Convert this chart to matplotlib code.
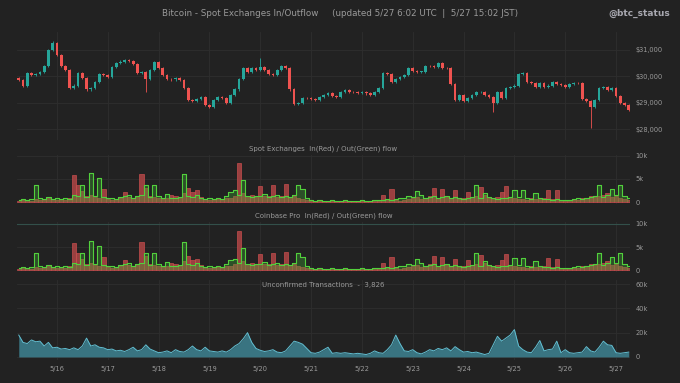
import matplotlib
matplotlib.use("Agg")
import matplotlib.pyplot as plt
import matplotlib.dates as mdates
import numpy as np
import pandas as pd

# 2-hour bins, 5/15 06:00 UTC -> 5/27 06:00 UTC
times = pd.date_range("2021-05-15 06:00", "2021-05-27 06:00", freq="2h")

close = [29870, 29620, 30130, 30050, 30100, 30150, 30400, 31000, 31250, 30800,
         30400, 30230, 29550, 29650, 30130, 29950, 29500, 29550, 29800, 30100,
         30050, 29980, 30360, 30500, 30560, 30620, 30580, 30450, 30130, 30170,
         29900, 30250, 30530, 30300, 30050, 29900, 29880, 29940, 29870, 29550,
         29110, 29050, 29150, 29200, 28920, 28820, 29100, 29200, 29190, 29000,
         29300, 29500, 29900, 30300, 30170, 30300, 30250, 30360, 30250, 30100,
         30050, 30250, 30400, 30320, 29500, 28950, 29000, 29190, 29180, 29150,
         29100, 29230, 29300, 29380, 29250, 29200, 29400, 29480, 29420, 29400,
         29380, 29420, 29350, 29300, 29420, 29550, 30130, 30100, 29800, 29900,
         29980, 30050, 30300, 30200, 30170, 30170, 30400, 30380, 30360, 30500,
         30330, 30300, 29700, 29100, 29280, 29050, 29190, 29300, 29400, 29420,
         29300, 29230, 29000, 29420, 29190, 29550, 29600, 29650, 30100, 30130,
         29790, 29750, 29600, 29750, 29600, 29650, 29790, 29720, 29680, 29600,
         29700, 29750, 29740, 29150, 29050, 28850, 29100, 29560, 29600, 29490,
         29550, 29250, 29000, 28920, 28740]
first_open = 29950
long_wicks = {8: 31350, 30: 29400, 57: 30700, 112: 28650, 135: 28050}

inflow = [0.3, 0.5, 0.4, 0.3, 0.6, 0.5, 0.4, 0.8, 0.6, 0.5,
          0.7, 0.4, 0.9, 5.8, 3.7, 2.3, 1.2, 1.5, 1.0, 0.8,
          2.9, 0.6, 0.5, 0.7, 0.9, 2.2, 1.0, 0.8, 1.1, 6.1,
          3.0, 1.2, 1.0, 0.9, 0.7, 0.8, 1.5, 1.3, 0.8, 2.0,
          3.1, 2.2, 2.5, 1.0, 0.6, 0.5, 0.4, 0.6, 0.5, 0.8,
          0.9, 1.2, 8.5, 2.0, 1.2, 1.5, 1.0, 3.4, 1.4, 1.2,
          3.6, 1.0, 1.3, 3.9, 1.0, 1.2, 0.8, 0.7, 0.4, 0.2,
          0.2, 0.3, 0.2, 0.2, 0.3, 0.2, 0.2, 0.2, 0.3, 0.2,
          0.2, 0.3, 0.2, 0.2, 0.4, 0.3, 1.6, 0.5, 2.9, 0.4,
          0.3, 0.5, 0.6, 0.8, 1.0, 0.7, 0.9, 1.2, 3.0, 0.8,
          2.9, 1.0, 0.8, 2.5, 0.6, 0.9, 2.2, 1.0, 1.2, 3.3,
          1.5, 0.9, 0.8, 1.0, 2.2, 3.4, 1.0, 0.8, 0.6, 0.7,
          0.5, 0.8, 0.7, 0.9, 0.8, 2.7, 0.6, 2.5, 0.5, 0.3,
          0.3, 0.4, 0.5, 0.8, 0.9, 1.4, 1.0, 1.2, 1.5, 2.0,
          1.0, 1.3, 0.9, 0.6, 0.5]

outflow = [0.5, 0.6, 0.4, 0.7, 3.7, 0.8, 0.6, 1.0, 0.7, 0.9,
           0.6, 0.8, 0.7, 1.5, 1.2, 3.8, 1.0, 6.3, 1.2, 5.2,
           1.0, 0.8, 0.9, 0.7, 1.0, 1.2, 1.5, 0.9, 1.2, 1.5,
           3.8, 1.0, 3.6, 1.2, 0.9, 1.8, 0.8, 0.9, 1.0, 6.1,
           1.2, 1.0, 1.5, 0.8, 0.7, 0.9, 0.6, 0.8, 0.7, 1.2,
           2.2, 2.5, 1.5, 4.8, 1.2, 1.0, 1.3, 1.2, 1.8, 1.0,
           1.2, 1.6, 1.0, 1.3, 1.0, 1.5, 3.7, 2.9, 0.8, 0.4,
           0.3, 0.4, 0.3, 0.3, 0.4, 0.3, 0.3, 0.4, 0.3, 0.3,
           0.3, 0.4, 0.3, 0.3, 0.5, 0.4, 0.5, 0.6, 0.5, 0.6,
           0.8, 0.9, 1.3, 1.0, 2.3, 1.5, 0.9, 1.0, 1.2, 0.9,
           1.0, 1.2, 0.8, 1.0, 0.9, 0.7, 0.9, 1.0, 3.7, 0.8,
           2.0, 1.0, 0.8, 0.7, 0.9, 0.8, 1.0, 2.7, 1.0, 2.7,
           0.9, 0.7, 2.0, 0.8, 0.6, 0.7, 0.5, 0.6, 0.4, 0.4,
           0.5, 0.6, 0.8, 0.7, 0.9, 1.0, 1.2, 3.7, 1.0, 1.5,
           2.9, 1.5, 3.8, 1.2, 0.8]

# Coinbase Pro panel reads the same as the spot panel at this resolution
cb_inflow = inflow
cb_outflow = outflow

unconfirmed = [18, 12, 11, 14, 12.5, 13, 9, 12, 7.5, 8,
               6.5, 7, 6, 7.5, 6, 9, 15.5, 9, 10, 8,
               7.5, 6, 6.5, 5, 5.5, 4.5, 6, 8, 5, 6,
               10, 6.5, 5, 3.5, 4, 5, 3.5, 6, 4.5, 4,
               6, 9, 6, 5, 8, 5, 4.5, 4, 5, 4,
               6, 9, 11, 15, 20, 12, 7, 5.5, 4.5, 5,
               6, 4, 3.5, 5, 9, 13, 12, 10.5, 7, 3.5,
               3, 4, 6, 8, 3, 3.5, 3, 3.5, 3, 2.5,
               3, 2.5, 2, 3, 5, 3.5, 3, 6, 10, 18,
               11, 5, 4.5, 6, 3.5, 2.5, 4, 6, 5, 7,
               6, 7.5, 5, 8.5, 6, 4, 4.5, 3.5, 4, 3,
               2, 3, 10, 17, 13, 15.5, 18, 22.5, 9, 6,
               4, 3.5, 8, 13.5, 5, 6, 6.5, 13, 3.5, 6,
               3.5, 3, 3.5, 4, 8.5, 5, 4, 8, 13, 10,
               9.5, 3.5, 3, 3.5, 4]

price_ticks = [28000, 29000, 30000, 31000]
flow_ticks = [0, 5, 10]
flow_labels = ["0", "5k", "10k"]
unconf_ticks = [0, 20, 40, 60]
unconf_labels = ["0", "20k", "40k", "60k"]
day_ticks = pd.date_range("2021-05-16", "2021-05-27", freq="D")

BG = "#222222"
GRID = "#2e2e2e"
TXT = "#9a9a9a"
UP = "#26a69a"
DOWN = "#ef5350"

fig = plt.figure(figsize=(6.8, 3.83), dpi=100, facecolor=BG)
L, W = 17 / 680, 613 / 680


def panel(top, bottom):
    ax = fig.add_axes([L, 1 - bottom / 383, W, (bottom - top) / 383])
    ax.set_facecolor(BG)
    for s in ax.spines.values():
        s.set_visible(False)
    ax.yaxis.tick_right()
    ax.tick_params(axis="both", length=0, labelsize=4.8, colors=TXT, pad=4)
    ax.set_xticks(day_ticks)
    ax.grid(True, color=GRID, lw=0.6)
    ax.set_axisbelow(True)
    ax.set_xlim(pd.Timestamp("2021-05-15 05:10"), pd.Timestamp("2021-05-27 06:35"))
    return ax


# price candles
ax1 = panel(32, 140)
opens = [first_open] + close[:-1]
w = pd.Timedelta(hours=1.3)
for t, o, c, i in zip(times, opens, close, range(len(close))):
    col = UP if c >= o else DOWN
    hi = max(o, c) + 40
    lo = min(o, c) - 40
    if i in long_wicks:
        if long_wicks[i] > hi:
            hi = long_wicks[i]
        else:
            lo = long_wicks[i]
    ax1.vlines(t, lo, hi, color=col, lw=0.6)
    ax1.bar(t, max(abs(c - o), 15), bottom=min(o, c), width=w, color=col, lw=0)
ax1.set_ylim(27585, 31680)
ax1.set_yticks(price_ticks)
ax1.set_yticklabels(["$" + format(p, ",") for p in price_ticks])
ax1.set_xticklabels([])


def flow(ax, inf, outf, title):
    bw = pd.Timedelta(hours=2)
    ax.bar(times, inf, width=bw, color="#a84444", edgecolor="#d05050", lw=0.5, alpha=0.9)
    ax.fill_between(times, outf, step="mid", color="#3fa535", alpha=0.35, lw=0)
    ax.step(times, outf, where="mid", color="#52d13c", lw=0.8)
    ax.set_ylim(-0.43, 10.2)
    ax.set_yticks(flow_ticks)
    ax.set_yticklabels(flow_labels)
    ax.set_xticklabels([])
    ax.set_title(title, color=TXT, fontsize=5, pad=3)


ax2 = panel(155, 204)
flow(ax2, inflow, outflow, "Spot Exchanges  In(Red) / Out(Green) flow")

ax3 = panel(222, 272)
flow(ax3, cb_inflow, cb_outflow, "Coinbase Pro  In(Red) / Out(Green) flow")
ax3.set_ylim(-0.43, 10.43)
ax3.axhline(10, color="#33504a", lw=0.8)

# unconfirmed transactions
ax4 = panel(280, 360)
ax4.fill_between(times, unconfirmed, color="#3e8393", alpha=0.85, lw=0)
ax4.plot(times, unconfirmed, color="#62bfd2", lw=0.7)
ax4.set_ylim(-2.5, 63.3)
ax4.set_yticks(unconf_ticks)
ax4.set_yticklabels(unconf_labels)
ax4.xaxis.set_major_formatter(mdates.DateFormatter("%-m/%d"))
ax4.text(0.5, 0.935, "Unconfirmed Transactions  -  3,826", transform=ax4.transAxes,
         ha="center", va="center", color=TXT, fontsize=5)

fig.text(0.5, 0.965, "Bitcoin - Spot Exchanges In/Outflow     (updated 5/27 6:02 UTC  |  5/27 15:02 JST)",
         ha="center", va="center", color=TXT, fontsize=6.3)
fig.text(0.985, 0.965, "@btc_status", ha="right", va="center", color="#a8a8b0",
         fontsize=6.5, fontweight="bold")

fig.savefig("out.png", dpi=100, facecolor=BG)
